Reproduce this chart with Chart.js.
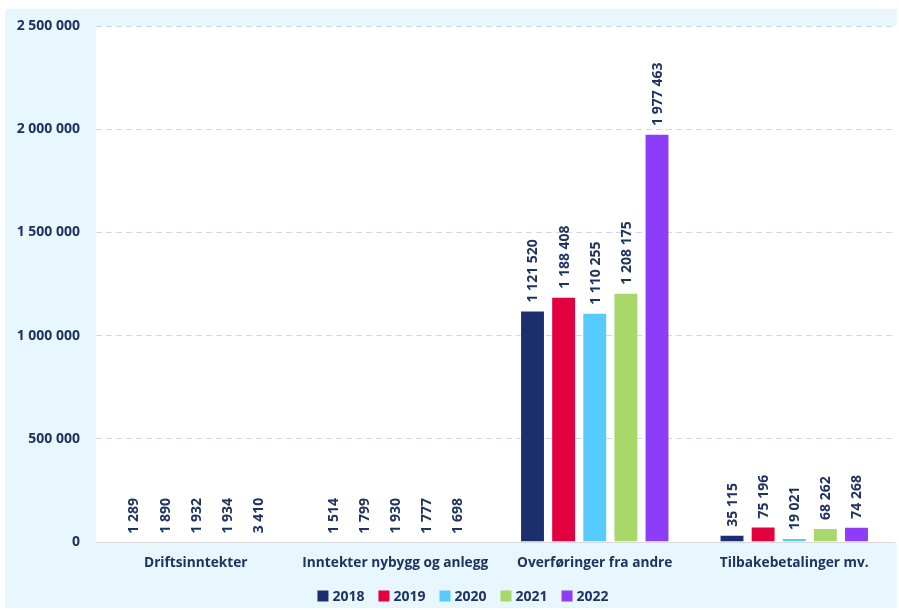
<!DOCTYPE html>
<html>
<head>
<meta charset="utf-8">
<script src="https://cdn.jsdelivr.net/npm/chart.js@4.4.1/dist/chart.umd.min.js"></script>
<style>
    body { margin: 0; background: #ffffff; }
    #wrap { position: absolute; left: 5px; top: 9px; width: 892px; height: 599px; background: #e8f6fe; }
</style>
</head>
<body>
<div id="wrap"><canvas id="inntekterChart" width="892" height="599"></canvas></div>
<script>
const kategorier = ['Driftsinntekter', 'Inntekter nybygg og anlegg', 'Overføringer fra andre', 'Tilbakebetalinger mv.'];
const aar = ['2018', '2019', '2020', '2021', '2022'];
const verdier2018 = [1289, 1514, 1121520, 35115];
const verdier2019 = [1890, 1799, 1188408, 75196];
const verdier2020 = [1932, 1930, 1110255, 19021];
const verdier2021 = [1934, 1777, 1208175, 68262];
const verdier2022 = [3410, 1698, 1977463, 74268];
const yTicks = [0, 500000, 1000000, 1500000, 2000000, 2500000];

const farger = ['#1b2f6e', '#e3003e', '#56cbfd', '#a9d86a', '#8d3cf8'];
const tekstFarge = '#1f3360';
const fontNavn = '"Open Sans", sans-serif';

function tall(v) {
    return String(v).replace(/\B(?=(\d{3})+(?!\d))/g, ' ');
}

// hvit plotteflate
const plotBakgrunn = {
    id: 'plotBakgrunn',
    beforeDraw(chart) {
        const a = chart.chartArea;
        const ctx = chart.ctx;
        ctx.save();
        ctx.fillStyle = '#ffffff';
        ctx.fillRect(a.left, a.top, a.right - a.left + 3, a.bottom - a.top);
        ctx.restore();
    }
};

// loddrette verdietiketter over søylene
const verdiEtiketter = {
    id: 'verdiEtiketter',
    afterDatasetsDraw(chart) {
        const ctx = chart.ctx;
        ctx.save();
        ctx.font = 'bold 14px ' + fontNavn;
        ctx.fillStyle = tekstFarge;
        ctx.textAlign = 'left';
        ctx.textBaseline = 'middle';
        chart.data.datasets.forEach(function (ds, i) {
            chart.getDatasetMeta(i).data.forEach(function (bar, j) {
                ctx.save();
                ctx.translate(bar.x, bar.y - 8);
                ctx.rotate(-Math.PI / 2);
                ctx.fillText(tall(ds.data[j]), 0, 1);
                ctx.restore();
            });
        });
        ctx.restore();
    }
};

// tegnforklaring nederst, sentrert
const tegnforklaring = {
    id: 'tegnforklaring',
    afterDraw(chart) {
        const ctx = chart.ctx;
        ctx.save();
        ctx.font = 'bold 14px ' + fontNavn;
        ctx.textBaseline = 'middle';
        ctx.textAlign = 'left';
        const boks = 11, gap = 4, mellom = 14;
        let total = 0;
        aar.forEach(function (a, i) {
            total += boks + gap + ctx.measureText(a).width + (i < aar.length - 1 ? mellom : 0);
        });
        let x = (chart.width - total) / 2 + 12;
        const y = 587;
        aar.forEach(function (a, i) {
            ctx.fillStyle = farger[i];
            ctx.fillRect(x, y - boks / 2, boks, boks);
            x += boks + gap;
            ctx.fillStyle = tekstFarge;
            ctx.fillText(a, x, y + 1);
            x += ctx.measureText(a).width + mellom;
        });
        ctx.restore();
    }
};

const serier = [verdier2018, verdier2019, verdier2020, verdier2021, verdier2022];

new Chart(document.getElementById('inntekterChart'), {
    type: 'bar',
    data: {
        labels: kategorier,
        datasets: serier.map(function (d, i) {
            return {
                label: aar[i],
                data: d,
                backgroundColor: farger[i],
                borderColor: 'rgba(255,255,255,0.35)',
                borderWidth: 1,
                categoryPercentage: 0.78,
                barPercentage: 0.8
            };
        })
    },
    options: {
        responsive: false,
        animation: false,
        layout: { padding: { top: 17, right: 3, left: 0, bottom: 32 } },
        plugins: {
            tooltip: { enabled: false },
            legend: { display: false }
        },
        scales: {
            x: {
                afterFit(scale) { scale.height = 34; },
                grid: { display: false },
                border: { display: true, color: '#d9d9d9', width: 1 },
                ticks: {
                    color: tekstFarge,
                    padding: 5,
                    maxRotation: 0,
                    font: { family: fontNavn, size: 13.7, weight: 'bold' }
                }
            },
            y: {
                min: 0,
                max: 2500000,
                afterFit(scale) {
                    scale.width = 91;
                    scale.paddingTop = 0;
                    scale.paddingBottom = 0;
                },
                afterBuildTicks(scale) { scale.ticks = yTicks.map(v => ({ value: v })); },
                border: { display: false, dash: [6, 4] },
                grid: {
                    drawTicks: false,
                    color: ctx => ctx.tick && ctx.tick.value === 0 ? 'rgba(0,0,0,0)' : '#cbd8ee'
                },
                ticks: {
                    color: tekstFarge,
                    padding: 16,
                    font: { family: fontNavn, size: 14, weight: 'bold' },
                    callback: v => tall(v)
                }
            }
        }
    },
    plugins: [plotBakgrunn, verdiEtiketter, tegnforklaring]
});
</script>
</body>
</html>
